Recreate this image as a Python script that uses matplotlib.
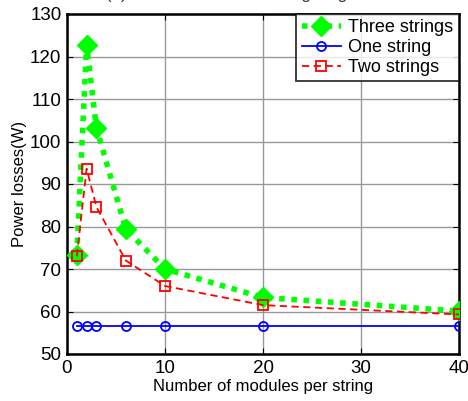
import matplotlib
matplotlib.use("Agg")
import matplotlib.pyplot as plt

x_modules = [1, 2, 3, 6, 10, 20, 40]
three_strings = [73.2, 122.8, 103.2, 79.4, 70.0, 63.3, 60.1]
one_string = [56.7, 56.7, 56.7, 56.7, 56.7, 56.7, 56.7]
two_strings = [73.0, 93.6, 84.6, 72.0, 66.0, 61.5, 59.3]
x_ticks = [0, 10, 20, 30, 40]
y_ticks = [50, 60, 70, 80, 90, 100, 110, 120, 130]

plt.rcParams['font.family'] = ['Liberation Sans', 'DejaVu Sans']

fig = plt.figure(figsize=(4.68, 4.01), dpi=100)
ax = fig.add_axes([67/468, 1 - 354/401, (459-67)/468, (354-14)/401])

ax.plot(x_modules, three_strings, linestyle=(0, (1, 1.2)), color='#00ff00', linewidth=4,
        marker='D', markersize=10, markerfacecolor='#00ff00', markeredgecolor='#00ff00',
        label='Three strings', zorder=3)
ax.plot(x_modules, one_string, linestyle='-', color='#0000ff', linewidth=1.3,
        marker='o', markersize=6.5, markerfacecolor='none', markeredgecolor='#0000ff',
        markeredgewidth=1.3, label='One string', zorder=4)
ax.plot(x_modules, two_strings, linestyle=(0, (4, 2.5)), color='#ff0000', linewidth=1.3,
        marker='s', markersize=7, markerfacecolor='none', markeredgecolor='#ff0000',
        markeredgewidth=1.3, label='Two strings', zorder=5)

ax.set_xlim(0, 40)
ax.set_ylim(50, 130)
ax.set_xticks(x_ticks)
ax.set_yticks(y_ticks)
ax.grid(True, color='#999999', linewidth=1.0)
ax.set_axisbelow(True)
ax.tick_params(direction='in', length=4, labelsize=13.5, pad=4, top=True, right=True, width=0.8)
for sp in ax.spines.values():
    sp.set_linewidth(1.8)

ax.set_xlabel('Number of modules per string', fontsize=12, labelpad=2)
ax.set_ylabel('Power losses(W)', fontsize=12, labelpad=2)

leg = ax.legend(loc='upper right', fontsize=13, frameon=True, fancybox=False,
                borderaxespad=0, handlelength=2.2, handletextpad=0.4,
                borderpad=0.3, labelspacing=0.15)
leg.get_frame().set_edgecolor('black')
leg.get_frame().set_linewidth(1.3)

fig.text(0.5, 1 + 1.0/401, '(a)   Power losses vs. string length', ha='center', va='baseline',
         fontsize=12, color='#333333')

fig.savefig('out.png', dpi=100)
